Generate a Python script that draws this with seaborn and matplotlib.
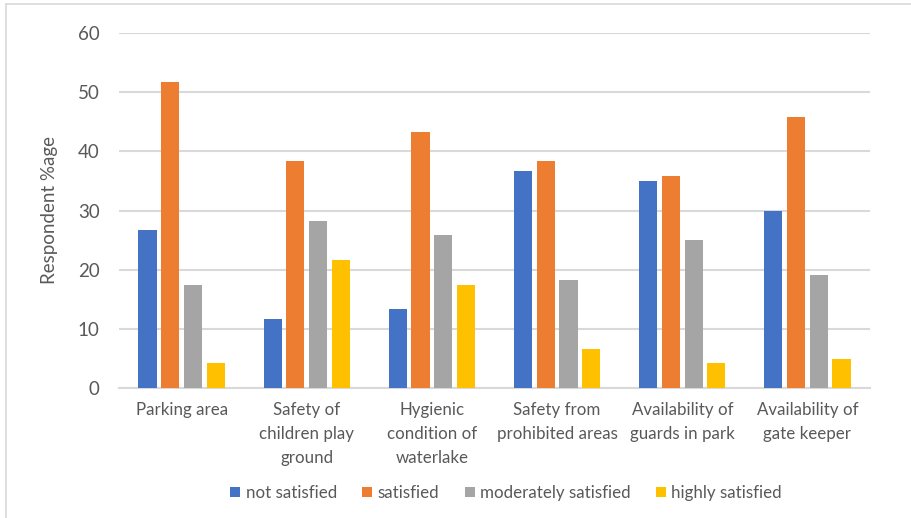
import matplotlib
matplotlib.use("Agg")
import matplotlib.pyplot as plt
from matplotlib.lines import Line2D
from matplotlib.patches import Patch
import seaborn as sns
import pandas as pd

categories = ["Parking area", "Safety of\nchildren play\nground", "Hygienic\ncondition of\nwaterlake",
              "Safety from\nprohibited areas", "Availability of\nguards in park", "Availability of\ngate keeper"]
series = ["not satisfied", "satisfied", "moderately satisfied", "highly satisfied"]
not_satisfied = [26.7, 11.7, 13.3, 36.7, 35.0, 30.0]
satisfied = [51.7, 38.3, 43.3, 38.3, 35.8, 45.8]
moderately_satisfied = [17.5, 28.3, 25.8, 18.3, 25.0, 19.2]
highly_satisfied = [4.2, 21.7, 17.5, 6.7, 4.2, 5.0]
colors = ["#4472C4", "#ED7D31", "#A5A5A5", "#FFC000"]
yticks = [0, 10, 20, 30, 40, 50, 60]

values = [not_satisfied, satisfied, moderately_satisfied, highly_satisfied]
rows = []
for s, vals in zip(series, values):
    for c, v in zip(categories, vals):
        rows.append({"category": c, "series": s, "value": v})
df = pd.DataFrame(rows)

sns.set_theme(style="white")
plt.rcParams["font.family"] = ["Lato", "DejaVu Sans"]
text_color = "#595959"
grid_color = "#D9D9D9"

fig = plt.figure(figsize=(9.11, 5.18), dpi=100)
ax = fig.add_axes([119 / 911, 1 - 388.3 / 518, (870 - 119) / 911, (388.3 - 32.7) / 518])

sns.barplot(data=df, x="category", y="value", hue="series", order=categories, hue_order=series,
            palette=colors, saturation=1, width=0.727, gap=0.2, linewidth=0, ax=ax, legend=False,
            zorder=3)

ax.set_ylim(0, 60)
ax.set_xlim(-0.5, 5.5)
ax.set_yticks(yticks)
ax.yaxis.grid(True, color=grid_color, linewidth=1.5, zorder=0)
ax.set_axisbelow(True)
for sp in ["top", "right", "left"]:
    ax.spines[sp].set_visible(False)
ax.spines["bottom"].set_color(grid_color)
ax.spines["bottom"].set_linewidth(1.5)
ax.tick_params(axis="y", length=0, pad=14, labelsize=13.5, labelcolor=text_color)
ax.tick_params(axis="x", length=0, pad=10, labelsize=12.2, labelcolor=text_color)
for lbl in ax.get_xticklabels():
    lbl.set_linespacing(1.6)
ax.set_xlabel("")
ax.set_ylabel("Respondent %age", fontsize=13.5, color=text_color, labelpad=14)

handles = [Patch(facecolor=c, edgecolor="none") for c in colors]
fig.legend(handles, series, loc="center", bbox_to_anchor=(506 / 911, 1 - 493 / 518), ncol=4,
           frameon=False, fontsize=12.2, labelcolor=text_color, handlelength=0.6, handleheight=0.6,
           handletextpad=0.3, columnspacing=1.5)

fig.add_artist(Line2D([6 / 911, 6 / 911], [0, 1 - 4 / 518], color=grid_color, linewidth=1.2,
                      transform=fig.transFigure))
fig.add_artist(Line2D([6 / 911, 1], [1 - 4 / 518, 1 - 4 / 518], color=grid_color, linewidth=1.2,
                      transform=fig.transFigure))

fig.savefig("out.png", dpi=100)
